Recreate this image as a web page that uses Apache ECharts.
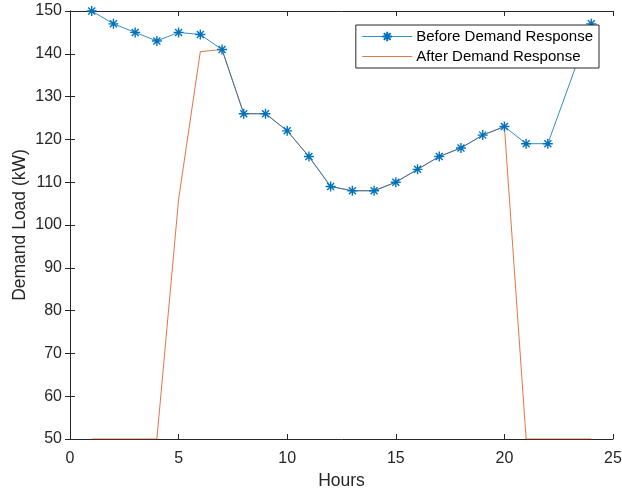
<!DOCTYPE html>
<html>
<head>
<meta charset="utf-8">
<script src="https://cdn.jsdelivr.net/npm/echarts@6/dist/echarts.min.js"></script>
<style>
  html, body { margin: 0; padding: 0; background: #fff; }
  #chart { width: 622px; height: 492px; }
</style>
</head>
<body>
<div id="chart"></div>
<script>
// Hourly demand load (kW) before and after demand response
const beforeHours = [1, 2, 3, 4, 5, 6, 7, 8, 9, 10, 11, 12, 13, 14, 15, 16, 17, 18, 19, 20, 21, 22, 24];
const beforeLoad  = [150, 147, 145, 143, 145, 144.5, 141, 126, 126, 122, 116, 109, 108, 108, 110, 113, 116, 118, 121, 123, 119, 119, 147];
const afterHours  = [1, 2, 3, 4, 5, 6, 7, 8, 9, 10, 11, 12, 13, 14, 15, 16, 17, 18, 19, 20, 21, 22, 23, 24];
const afterLoad   = [50, 50, 50, 50, 106, 140.5, 141, 126, 126, 122, 116, 109, 108, 108, 110, 113, 116, 118, 121, 123, 50, 50, 50, 50];
const seriesNames = ['Before Demand Response', 'After Demand Response'];
const xTitle = 'Hours';
const yTitle = 'Demand Load (kW)';

const pairs = (xs, ys) => xs.map((x, i) => [x, ys[i]]);

const FONT = 'Liberation Sans, Arial, sans-serif';
const AXIS_COLOR = '#262626';
const BLUE = '#0072BD';
const ORANGE = '#D95319';
// eight-armed asterisk marker
const ASTERISK = 'path://M0 10 L20 10 M10 0 L10 20 M3 3 L17 17 M17 3 L3 17';

const baseAxis = {
  axisLine: { show: true, lineStyle: { color: AXIS_COLOR, width: 1 } },
  axisTick: { show: true, inside: true, length: 5, lineStyle: { color: AXIS_COLOR } },
  splitLine: { show: false },
  axisLabel: { color: AXIS_COLOR, fontFamily: FONT, fontSize: 16 }
};
const titleStyle = { color: AXIS_COLOR, fontFamily: FONT, fontSize: 17.5 };

const chart = echarts.init(document.getElementById('chart'), null, { renderer: 'canvas' });
chart.setOption({
  animation: false,
  backgroundColor: '#fff',
  grid: { left: 70, right: 9, top: 11, bottom: 53, containLabel: false, outerBoundsMode: 'none' },
  xAxis: [
    Object.assign({}, baseAxis, {
      type: 'value', min: 0, max: 25, interval: 5, position: 'bottom',
      name: xTitle, nameLocation: 'middle', nameGap: 33, nameMoveOverlap: false,
      nameTextStyle: titleStyle,
      axisLabel: Object.assign({}, baseAxis.axisLabel, { margin: 12 })
    }),
    Object.assign({}, baseAxis, {
      type: 'value', min: 0, max: 25, interval: 5, position: 'top',
      axisLabel: { show: false }
    })
  ],
  yAxis: [
    Object.assign({}, baseAxis, {
      type: 'value', min: 50, max: 150, interval: 10, position: 'left',
      name: yTitle, nameLocation: 'middle', nameGap: 41, nameMoveOverlap: false,
      nameTextStyle: titleStyle,
      axisLabel: Object.assign({}, baseAxis.axisLabel, { margin: 8 })
    }),
    Object.assign({}, baseAxis, {
      type: 'value', min: 50, max: 150, interval: 10, position: 'right',
      axisLabel: { show: false }
    })
  ],
  legend: {
    right: 23, top: 25,
    orient: 'vertical',
    backgroundColor: '#fff',
    borderColor: AXIS_COLOR, borderWidth: 1, borderRadius: 0,
    padding: [4, 6, 4, 6],
    itemGap: 5, itemWidth: 50, itemHeight: 12,
    textStyle: { color: '#000', fontFamily: FONT, fontSize: 15, padding: [0, 0, 0, -1] },
    data: [
      { name: seriesNames[0], lineStyle: { width: 0.8 } },
      {
        name: seriesNames[1], lineStyle: { width: 0.8 },
        itemStyle: { color: 'rgba(0,0,0,0)', borderColor: 'rgba(0,0,0,0)', opacity: 0 }
      }
    ]
  },
  series: [
    {
      name: seriesNames[0], type: 'line', xAxisIndex: 0, yAxisIndex: 0,
      data: pairs(beforeHours, beforeLoad),
      symbol: ASTERISK, symbolSize: 10, showSymbol: true,
      lineStyle: { color: BLUE, width: 0.8 },
      itemStyle: { color: BLUE, borderColor: BLUE, borderWidth: 1.4 },
      z: 3
    },
    {
      name: seriesNames[1], type: 'line', xAxisIndex: 0, yAxisIndex: 0,
      data: pairs(afterHours, afterLoad),
      symbol: 'emptyCircle', showSymbol: false,
      lineStyle: { color: ORANGE, width: 0.8 },
      itemStyle: { color: ORANGE },
      z: 2
    }
  ]
});
</script>
</body>
</html>
